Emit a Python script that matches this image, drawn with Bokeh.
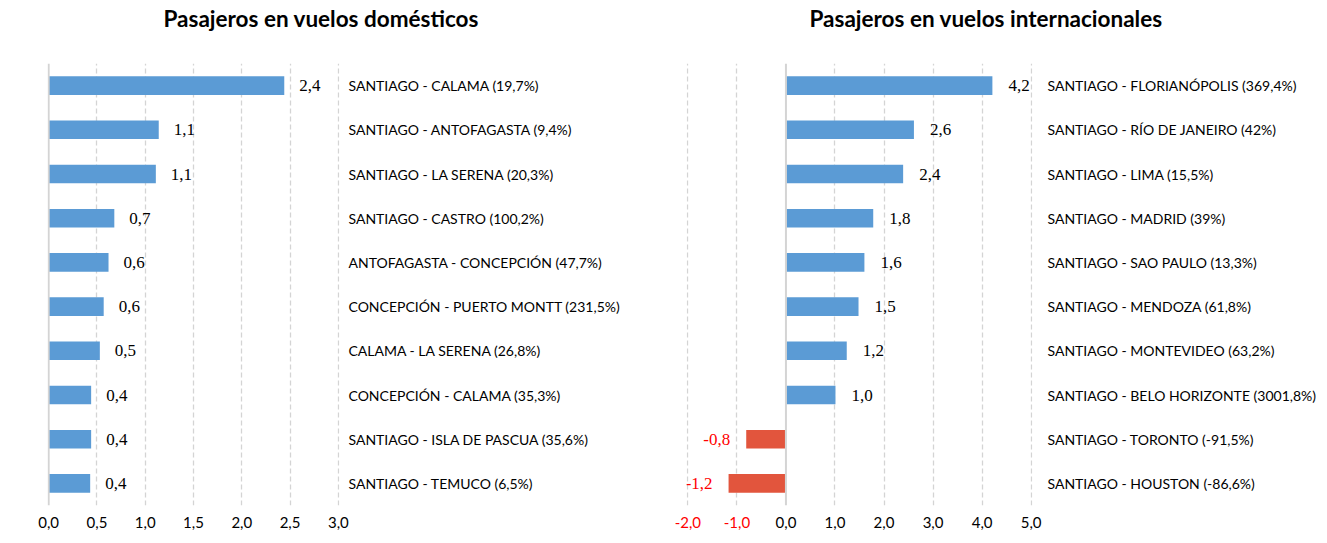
from bokeh.plotting import figure
from bokeh.models import (FactorRange, Range1d, FixedTicker, Span, LabelSet, ColumnDataSource,
                          CustomJSTickFormatter, LinearAxis, Title)
from bokeh.layouts import row
from bokeh.embed import file_html
from bokeh.resources import INLINE

# ---------------- data ----------------
dom_title = "Pasajeros en vuelos domésticos"
dom_routes = [
    "SANTIAGO - CALAMA (19,7%)",
    "SANTIAGO - ANTOFAGASTA (9,4%)",
    "SANTIAGO - LA SERENA (20,3%)",
    "SANTIAGO - CASTRO (100,2%)",
    "ANTOFAGASTA - CONCEPCIÓN (47,7%)",
    "CONCEPCIÓN - PUERTO MONTT (231,5%)",
    "CALAMA - LA SERENA (26,8%)",
    "CONCEPCIÓN - CALAMA (35,3%)",
    "SANTIAGO - ISLA DE PASCUA (35,6%)",
    "SANTIAGO - TEMUCO (6,5%)",
]
dom_values = [2.44, 1.14, 1.11, 0.68, 0.62, 0.57, 0.53, 0.44, 0.44, 0.43]
dom_ticks = [0.0, 0.5, 1.0, 1.5, 2.0, 2.5, 3.0]

int_title = "Pasajeros en vuelos internacionales"
int_routes = [
    "SANTIAGO - FLORIANÓPOLIS (369,4%)",
    "SANTIAGO - RÍO DE JANEIRO (42%)",
    "SANTIAGO - LIMA (15,5%)",
    "SANTIAGO - MADRID (39%)",
    "SANTIAGO - SAO PAULO (13,3%)",
    "SANTIAGO - MENDOZA (61,8%)",
    "SANTIAGO - MONTEVIDEO (63,2%)",
    "SANTIAGO - BELO HORIZONTE (3001,8%)",
    "SANTIAGO - TORONTO (-91,5%)",
    "SANTIAGO - HOUSTON (-86,6%)",
]
int_values = [4.21, 2.61, 2.39, 1.78, 1.60, 1.48, 1.24, 1.01, -0.81, -1.17]
int_ticks = [-2.0, -1.0, 0.0, 1.0, 2.0, 3.0, 4.0, 5.0]

POS_COLOR = "#5B9BD5"
NEG_COLOR = "#E2553D"
NEG_TEXT = "#FF0000"
GRID_COLOR = "#D4D4D4"
FONT = "Lato"
HEIGHT = 535
FRAME_TOP = 62
FRAME_BOTTOM = 505
TICK_STANDOFF = 11


def fmt(v):
    return f"{v:.1f}".replace(".", ",")


def style_xaxis(ax, ticks, color, standoff):
    ax.ticker = FixedTicker(ticks=ticks)
    ax.formatter = CustomJSTickFormatter(code="return tick.toFixed(1).replace('.', ',')")
    ax.axis_line_color = None
    ax.major_tick_line_color = None
    ax.minor_tick_line_color = None
    ax.major_tick_out = 0
    ax.major_tick_in = 0
    ax.major_label_standoff = standoff
    ax.major_label_text_font = FONT
    ax.major_label_text_font_size = "15px"
    ax.major_label_text_color = color


def make_fig(routes, values, ticks, width, mb_left, mb_right,
             title, title_offset, cat_standoff, label_off):
    p = figure(width=width, height=HEIGHT,
               y_range=FactorRange(factors=list(reversed(routes))),
               x_range=Range1d(ticks[0] - 0.004 * (ticks[-1] - ticks[0]),
                               ticks[-1] + 0.004 * (ticks[-1] - ticks[0])),
               y_axis_location="right",
               output_backend="svg", toolbar_location=None,
               min_border_left=mb_left, min_border_right=mb_right,
               min_border_top=FRAME_TOP, min_border_bottom=HEIGHT - FRAME_BOTTOM)
    p.outline_line_color = None
    p.background_fill_color = "white"
    p.border_fill_color = "white"

    # title (outermost) + spacer between title and frame
    p.title.text = title
    p.title.align = "left"
    p.title.offset = title_offset
    p.title.standoff = 4
    p.title.text_font = FONT
    p.title.text_font_size = "22.5px"
    p.title.text_font_style = "bold"
    p.title.text_color = "#000000"
    p.add_layout(Title(text=" ", text_font_size="14px", standoff=12), "above")

    colors = [POS_COLOR if v >= 0 else NEG_COLOR for v in values]
    src = ColumnDataSource(dict(route=routes, value=values, color=colors))
    p.hbar(y="route", left=0, right="value", height=0.42, fill_color="color",
           line_color=None, source=src)

    pos = [i for i, v in enumerate(values) if v >= 0]
    neg = [i for i, v in enumerate(values) if v < 0]
    psrc = ColumnDataSource(dict(route=[routes[i] for i in pos], value=[values[i] for i in pos],
                                 label=[fmt(values[i]) for i in pos]))
    p.add_layout(LabelSet(x="value", y="route", text="label", source=psrc, x_offset=label_off,
                          text_align="left", text_baseline="middle", text_font=FONT,
                          text_font_size="17px", text_color="#000000"))
    if neg:
        nsrc = ColumnDataSource(dict(route=[routes[i] for i in neg], value=[values[i] for i in neg],
                                     label=[fmt(values[i]) for i in neg]))
        p.add_layout(LabelSet(x="value", y="route", text="label", source=nsrc, x_offset=-label_off,
                              text_align="right", text_baseline="middle", text_font=FONT,
                              text_font_size="17px", text_color=NEG_TEXT))

    # grid
    p.ygrid.grid_line_color = None
    p.xgrid.ticker = FixedTicker(ticks=[v for v in ticks if v != 0])
    p.xgrid.grid_line_color = GRID_COLOR
    p.xgrid.grid_line_dash = "5 3"
    p.xgrid.grid_line_width = 1.3
    p.add_layout(Span(location=0, dimension="height", line_color=GRID_COLOR, line_width=2))

    # x axes: black for non-negative ticks, red (stacked, pulled back up) for negative ones
    style_xaxis(p.xaxis[0], [v for v in ticks if v >= 0], "#000000", TICK_STANDOFF)
    neg_ticks = [v for v in ticks if v < 0]
    if neg_ticks:
        red_axis = LinearAxis()
        style_xaxis(red_axis, neg_ticks, NEG_TEXT, TICK_STANDOFF - 25)
        p.add_layout(red_axis, "below")

    # category axis (right)
    ya = p.yaxis[0]
    ya.axis_line_color = None
    ya.major_tick_line_color = None
    ya.minor_tick_line_color = None
    ya.major_tick_out = 0
    ya.major_tick_in = 0
    ya.major_label_standoff = cat_standoff
    ya.major_label_text_font = FONT
    ya.major_label_text_font_size = "14px"
    ya.major_label_text_color = "#000000"
    return p


p1 = make_fig(dom_routes, dom_values, dom_ticks, width=668, mb_left=47, mb_right=329,
              title=dom_title, title_offset=116, cat_standoff=9, label_off=15)
p2 = make_fig(int_routes, int_values, int_ticks, width=659, mb_left=18, mb_right=295,
              title=int_title, title_offset=123, cat_standoff=15, label_off=16)

layout = row(p1, p2)
open("out.html", "w").write(file_html(layout, INLINE))
